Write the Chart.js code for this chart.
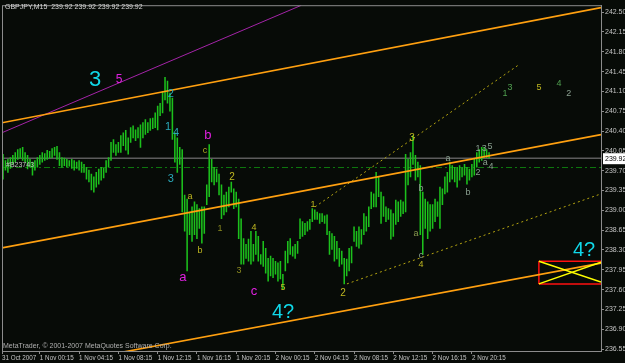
<!DOCTYPE html>
<html>
<head>
<meta charset="utf-8">
<script src="https://cdn.jsdelivr.net/npm/chart.js@4.4.0/dist/chart.umd.min.js"></script>
<style>
  html, body { margin: 0; padding: 0; background: #070b07; }
</style>
</head>
<body>
<canvas id="chart" width="625" height="363"></canvas>
<script>
// GBPJPY M15 bars, highs and lows (bar 0 = 31 Oct ~20:30)
const highs = [
  239.99, 239.88, 239.90, 239.93, 239.97, 240.02, 240.07, 240.09, 240.11, 240.02,
  239.97, 239.90, 239.85, 239.88, 239.93, 239.97, 240.02, 240.00, 240.06, 240.04,
  240.09, 240.11, 240.13, 240.02, 239.93, 239.92, 239.90, 239.88, 239.90, 239.88,
  239.85, 239.88, 239.85, 239.81, 239.76, 239.71, 239.64, 239.59, 239.67, 239.73,
  239.76, 239.74, 239.88, 239.93, 240.20, 240.25, 240.16, 240.20, 240.32, 240.37,
  240.41, 240.28, 240.46, 240.49, 240.42, 240.46, 240.51, 240.55, 240.60, 240.55,
  240.62, 240.63, 240.72, 240.84, 240.89, 241.10, 241.35, 241.28, 241.07, 240.98,
  240.37, 240.28, 240.11, 240.07, 239.27, 239.20, 238.97, 239.06, 239.15, 239.10,
  239.03, 239.06, 239.06, 239.45, 240.16, 239.90, 239.76, 239.73, 239.64, 239.45,
  239.27, 239.32, 239.41, 239.50, 239.38, 239.32, 239.20, 238.85, 238.50, 238.40,
  238.49, 238.63, 238.40, 238.63, 238.54, 238.22, 238.45, 238.33, 238.15, 238.19,
  238.15, 238.10, 238.07, 238.10, 237.87, 238.28, 238.45, 238.50, 238.36, 238.40,
  238.45, 238.85, 238.80, 238.77, 238.80, 238.84, 239.03, 239.01, 238.97, 238.94,
  238.94, 238.90, 238.92, 238.63, 238.59, 238.54, 238.45, 238.33, 238.28, 238.15,
  238.14, 238.33, 238.36, 238.71, 238.63, 238.71, 238.66, 238.94, 238.89, 239.06,
  239.32, 239.29, 239.67, 239.59, 239.32, 239.24, 239.06, 239.03, 239.01, 238.94,
  239.18, 239.15, 239.18, 239.15, 239.99, 239.90, 240.02, 240.32, 239.97, 239.85,
  239.79, 239.32, 239.20, 239.15, 239.10, 239.10, 239.20, 239.15, 239.41, 239.38,
  239.59, 239.67, 239.85, 239.79, 239.76, 239.76, 239.79, 239.76, 239.81, 239.76,
  239.73, 239.81, 239.90, 240.02, 240.07, 240.11, 240.11, 240.07, 240.02
];
const lows = [
  239.55, 239.71, 239.67, 239.74, 239.81, 239.85, 239.90, 239.92, 239.88, 239.85,
  239.73, 239.76, 239.62, 239.71, 239.76, 239.81, 239.85, 239.88, 239.90, 239.92,
  239.93, 239.97, 239.90, 239.79, 239.76, 239.79, 239.76, 239.78, 239.74, 239.71,
  239.74, 239.71, 239.67, 239.67, 239.55, 239.50, 239.36, 239.32, 239.41, 239.46,
  239.53, 239.57, 239.67, 239.76, 239.88, 240.02, 239.97, 240.02, 240.02, 240.14,
  240.06, 239.99, 240.20, 240.28, 240.23, 240.28, 240.11, 240.28, 240.34, 240.37,
  240.41, 240.44, 240.46, 240.42, 240.67, 240.72, 240.95, 240.89, 240.75, 240.25,
  239.85, 239.67, 239.81, 238.97, 238.63, 237.93, 238.57, 238.45, 238.57, 238.50,
  238.68, 238.42, 238.59, 239.10, 239.24, 239.50, 239.45, 239.50, 239.27, 238.85,
  238.92, 238.97, 239.06, 239.32, 239.03, 239.06, 238.50, 238.05, 238.05, 238.15,
  238.10, 238.05, 238.10, 238.22, 238.10, 238.05, 238.01, 237.89, 237.75, 237.84,
  237.81, 237.87, 237.75, 237.79, 237.61, 237.93, 238.07, 238.22, 238.19, 238.15,
  238.24, 238.50, 238.54, 238.57, 238.63, 238.66, 238.80, 238.84, 238.84, 238.77,
  238.80, 238.77, 238.57, 238.22, 238.31, 238.10, 238.14, 238.01, 238.05, 237.70,
  237.84, 237.93, 238.07, 238.45, 238.36, 238.33, 238.40, 238.57, 238.63, 238.71,
  239.03, 239.06, 239.06, 239.24, 238.77, 238.89, 238.80, 238.84, 238.49, 238.54,
  238.75, 238.80, 238.89, 238.94, 238.97, 239.45, 239.59, 239.81, 239.53, 239.59,
  238.57, 238.22, 238.68, 238.50, 238.63, 238.68, 238.80, 238.89, 238.68, 239.10,
  239.29, 239.32, 239.50, 239.55, 239.50, 239.41, 239.53, 239.59, 239.62, 239.46,
  239.53, 239.59, 239.62, 239.76, 239.85, 239.88, 239.93, 239.93, 239.92
];

// time axis (bar index) and price axis
const timeTicks = [-0.4, 15, 31, 47, 63, 79, 95, 111, 127, 143, 159, 175, 191];
const timeLabels = ['31 Oct 2007', '1 Nov 00:15', '1 Nov 04:15', '1 Nov 08:15', '1 Nov 12:15',
  '1 Nov 16:15', '1 Nov 20:15', '2 Nov 00:15', '2 Nov 04:15', '2 Nov 08:15',
  '2 Nov 12:15', '2 Nov 16:15', '2 Nov 20:15'];
const priceTicks = [242.50, 242.15, 241.80, 241.45, 241.10, 240.75, 240.40, 240.05, 239.70,
  239.35, 239.00, 238.65, 238.30, 237.95, 237.60, 237.25, 236.90, 236.55];
const lastPrice = 239.92;
const askLevel = 239.755;

// drawn objects: [bar index, price] end points
const channelTop = [[-0.41, 240.545], [243.6, 242.58]];
const channelMid = [[-0.41, 238.336], [243.6, 240.336]];
const channelLow = [[48.9, 236.497], [243.6, 238.067]];
const purpleLine = [[-0.41, 240.37], [121.5, 242.62]];
const dotUpper = [[127.1, 239.06], [209.8, 241.56]];
const dotLower = [[140.1, 237.70], [243.6, 239.29]];
const boxTop = [[218.3, 238.10], [243.6, 238.10]];
const boxBottom = [[218.3, 237.70], [243.6, 237.70]];
const boxLeft = [[218.3, 238.10], [218.3, 237.70]];
const crossA = [[218.3, 238.10], [243.6, 237.735]];
const crossB = [[218.3, 237.70], [243.6, 238.085]];

// wave labels: text, bar index, price, colour, size
const waveMarks = [
  ['3', 37.5, 241.30, '#10d8e8', 22],
  ['5', 47.3, 241.31, '#e020e0', 12],
  ['2', 68.4, 241.05, '#2aa8b8', 11],
  ['1', 67.2, 240.48, '#2aa8b8', 11],
  ['4', 70.5, 240.37, '#2aa8b8', 11],
  ['3', 68.4, 239.55, '#2aa8b8', 11],
  ['b', 83.5, 240.32, '#e020e0', 13],
  ['c', 82.3, 240.06, '#b0a820', 9],
  ['2', 93.3, 239.59, '#c0b820', 10],
  ['a', 76.2, 239.24, '#c0b820', 9],
  ['1', 88.4, 238.68, '#8a8a20', 9],
  ['b', 80.2, 238.29, '#c0b820', 9],
  ['a', 73.3, 237.82, '#e020e0', 13],
  ['3', 96.1, 237.94, '#8a8a20', 9],
  ['4', 102.2, 238.70, '#c0b820', 9],
  ['c', 102.2, 237.56, '#e020e0', 13],
  ['5', 114.1, 237.63, '#c0b820', 9],
  ['4?', 114.1, 237.19, '#10d8e8', 20],
  ['1', 126.3, 239.10, '#c0b820', 9],
  ['2', 138.5, 237.54, '#c0b820', 10],
  ['3', 166.6, 240.28, '#c0b820', 10],
  ['a', 168.2, 238.59, '#8a9a50', 9],
  ['b', 170.3, 239.39, '#8aa090', 9],
  ['c', 170.3, 238.21, '#8aa090', 9],
  ['4', 170.3, 238.05, '#c0b820', 9],
  ['a', 181.3, 239.92, '#8aa090', 9],
  ['b', 189.4, 239.31, '#8aa090', 9],
  ['2', 193.5, 239.66, '#8aa090', 9],
  ['1', 193.5, 240.09, '#8aa090', 9],
  ['3', 196.0, 240.09, '#8aa090', 9],
  ['5', 198.4, 240.12, '#8aa090', 9],
  ['a', 196.4, 239.85, '#8aa090', 9],
  ['4', 198.8, 239.78, '#8aa090', 9],
  ['1', 204.5, 241.07, '#50a050', 9],
  ['3', 206.5, 241.16, '#50a050', 9],
  ['5', 218.3, 241.16, '#c0b820', 9],
  ['4', 226.5, 241.24, '#50a050', 9],
  ['2', 230.5, 241.07, '#8aa090', 9],
  ['4?', 236.7, 238.29, '#10d8e8', 20]
];

const AXIS = '#8c8c8c';
const TEXT = '#c4c4c4';

function seg(points, color, width, dash, order) {
  return {
    type: 'line',
    data: points.map(p => ({ x: p[0], y: p[1] })),
    borderColor: color,
    borderWidth: width,
    borderDash: dash || [],
    pointRadius: 0,
    fill: false,
    order: order
  };
}

const overlay = {
  id: 'overlay',
  beforeDraw(chart) {
    const ctx = chart.ctx;
    ctx.save();
    ctx.fillStyle = '#070b07';
    ctx.fillRect(0, 0, chart.width, chart.height);
    ctx.restore();
  },
  afterDatasetsDraw(chart) {
    const ctx = chart.ctx;
    const xs = chart.scales.x, ys = chart.scales.y;
    const a = chart.chartArea;
    ctx.save();
    // frame
    ctx.strokeStyle = AXIS;
    ctx.lineWidth = 1;
    ctx.strokeRect(a.left + 0.5, a.top + 0.5, a.right - a.left, a.bottom - a.top);
    // wave labels
    ctx.textAlign = 'center';
    ctx.textBaseline = 'middle';
    waveMarks.forEach(m => {
      ctx.fillStyle = m[3];
      ctx.font = m[4] + 'px "Liberation Sans"';
      ctx.fillText(m[0], xs.getPixelForValue(m[1]), ys.getPixelForValue(m[2]));
    });
    // header and footer
    ctx.textAlign = 'left';
    ctx.font = '7px "Liberation Sans"';
    ctx.fillStyle = '#d8d8d8';
    ctx.fillText('GBPJPY,M15  239.92 239.92 239.92 239.92', 5, 7);
    ctx.fillStyle = '#b0b0b0';
    ctx.fillText('MetaTrader, \u00a9 2001-2007 MetaQuotes Software Corp.', 3, 346);
    ctx.fillStyle = '#c0c0c0';
    ctx.fillText('#B23743', 6, ys.getPixelForValue(239.8));
    // last price box
    const py = ys.getPixelForValue(lastPrice);
    ctx.fillStyle = '#ffffff';
    ctx.fillRect(a.right + 2, py - 5, 22, 11);
    ctx.fillStyle = '#000000';
    ctx.fillText(lastPrice.toFixed(2), a.right + 4, py + 0.5);
    ctx.restore();
  }
};

new Chart(document.getElementById('chart'), {
  type: 'bar',
  data: {
    datasets: [
      seg([[-0.41, lastPrice], [243.6, lastPrice]], '#5c5c5c', 1.5, [], 10),
      seg([[-0.41, askLevel], [243.6, askLevel]], '#0e7a0e', 1, [6, 3, 2, 3], 10),
      {
        type: 'bar',
        data: highs.map((h, k) => ({ x: k, y: [lows[k], h] })),
        backgroundColor: '#1cc01c',
        barThickness: 0.9,
        grouped: false,
        order: 5
      },
      seg(purpleLine, '#a424a8', 1, [], 2),
      seg(dotUpper, '#b4a410', 1, [2, 3], 2),
      seg(dotLower, '#b4a410', 1, [2, 3], 2),
      seg(channelTop, '#ffa010', 1.6, [], 1),
      seg(channelMid, '#ffa010', 1.6, [], 1),
      seg(channelLow, '#ffa010', 1.6, [], 1),
      seg(boxTop, '#ff1010', 1.5, [], 1),
      seg(boxBottom, '#ff1010', 1.5, [], 1),
      seg(boxLeft, '#ff1010', 1.5, [], 1),
      seg(crossA, '#ffff00', 1.5, [], 0),
      seg(crossB, '#ffff00', 1.5, [], 0)
    ]
  },
  options: {
    responsive: false,
    animation: false,
    events: [],
    layout: { padding: { left: 2, top: 1, right: 0, bottom: 0 } },
    plugins: { legend: { display: false }, tooltip: { enabled: false } },
    scales: {
      x: {
        type: 'linear',
        min: -0.41,
        max: 243.6,
        offset: false,
        grid: { drawOnChartArea: false, drawTicks: true, tickLength: 3, color: AXIS, offset: false },
        border: { color: AXIS },
        afterBuildTicks: s => { s.ticks = timeTicks.map(v => ({ value: v })); },
        afterFit: s => { s.height = 12; },
        ticks: {
          align: 'start',
          maxRotation: 0,
          autoSkip: false,
          padding: 0,
          color: TEXT,
          font: { family: 'Liberation Sans', size: 6.3 },
          callback: v => timeLabels[timeTicks.indexOf(v)]
        }
      },
      y: {
        type: 'linear',
        position: 'right',
        min: 236.515,
        max: 242.622,
        grid: { drawOnChartArea: false, drawTicks: true, tickLength: 3, color: AXIS },
        border: { color: AXIS },
        afterBuildTicks: s => { s.ticks = priceTicks.map(v => ({ value: v })); },
        afterFit: s => { s.width = 24; },
        ticks: {
          padding: 1,
          color: TEXT,
          font: { family: 'Liberation Sans', size: 7 },
          callback: v => v.toFixed(2)
        }
      }
    }
  },
  plugins: [overlay]
});
</script>
</body>
</html>
